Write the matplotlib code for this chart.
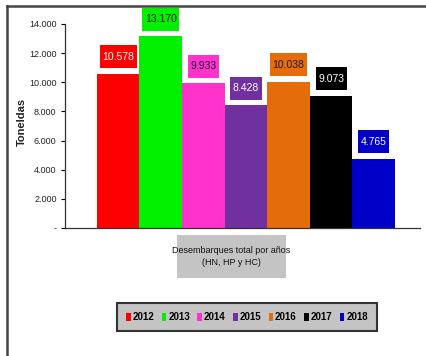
import matplotlib.pyplot as plt
import matplotlib.patches as patches
import matplotlib.lines as mlines
from matplotlib.transforms import IdentityTransform
import numpy as np

years = ['2012', '2013', '2014', '2015', '2016', '2017', '2018']
values = [10578, 13170, 9933, 8428, 10038, 9073, 4765]
colors = ['#ff0000', '#00f000', '#ff33cc', '#7030a0', '#e46c0a', '#000000', '#0000c8']
label_text_colors = ['white', '#1a1a1a', '#1a1a3a', 'white', '#1a1a1a', 'white', 'white']
y_ticks = [0, 2000, 4000, 6000, 8000, 10000, 12000, 14000]
x_title = 'Desembarques total por años\n(HN, HP y HC)'
y_title = 'Toneldas'

FONT = 'Liberation Sans'


def fmt_es(v):
    return f"{v:,.0f}".replace(',', '.')


fig = plt.figure(figsize=(4.27, 3.56), dpi=100)
ax = fig.add_axes([0.152, 0.3596, 0.832, 0.573])

# bars side by side, one category
pos = np.arange(len(values)) - (len(values) - 1) / 2
bars = ax.bar(pos, values, width=1.0, color=colors, edgecolor='none', zorder=2)

ax.set_xlim(-4.25, 4.09)
ax.set_ylim(0, 14000)
ax.set_yticks(y_ticks)
ax.set_yticklabels(['-' if t == 0 else fmt_es(t) for t in y_ticks],
                   fontname=FONT, fontsize=6.5, color='#222222')
ax.set_xticks([])
ax.tick_params(axis='y', direction='out', length=3, width=0.8, pad=3)
for s in ['top', 'right']:
    ax.spines[s].set_visible(False)
ax.spines['left'].set_color('#333333')
ax.spines['bottom'].set_color('#333333')
ax.spines['left'].set_linewidth(0.9)
ax.spines['bottom'].set_linewidth(0.9)

# data labels in colored boxes (box drawn in pixels around the text)
renderer = fig.canvas.get_renderer()
for b, v, c, tc in zip(bars, values, colors, label_text_colors):
    cx, cy = ax.transData.transform((b.get_x() + b.get_width() / 2, v))
    cy += 17
    t = fig.text(cx, cy, fmt_es(v), transform=IdentityTransform(),
                 ha='center', va='center', fontname=FONT, fontsize=7.5,
                 color=tc, zorder=6)
    w = t.get_window_extent(renderer).width + 5
    h = 23
    box = patches.Rectangle((cx - w / 2, cy - h / 2), w, h, transform=IdentityTransform(),
                            facecolor=c, edgecolor='none', zorder=5)
    fig.add_artist(box)

# y axis title
fig.text(22 / 427, 1 - 122 / 356, y_title, rotation=90, ha='center', va='center',
         fontsize=8, fontweight='bold', color='#222222', family=FONT)

# x axis title in grey box
fig.patches.append(patches.Rectangle((177 / 427, 1 - 278 / 356), 109 / 427, 43 / 356,
                                     transform=fig.transFigure, facecolor='#c4c4c4',
                                     edgecolor='none', zorder=1))
fig.text(231 / 427, 1 - 256.5 / 356, x_title, ha='center', va='center',
         fontname=FONT, fontsize=6.5, color='#111111', linespacing=1.5)

# legend
handles = [patches.Patch(facecolor=c, edgecolor='none', label=y) for c, y in zip(colors, years)]
leg = fig.legend(handles=handles, loc='center', ncol=7,
                 bbox_to_anchor=(247 / 427, 1 - 317 / 356),
                 prop={'family': FONT, 'size': 7, 'weight': 'bold'},
                 handlelength=0.45, handleheight=0.9, handletextpad=0.2,
                 columnspacing=0.78, borderpad=0.95, fancybox=False,
                 framealpha=1, facecolor='#c4c4c4', edgecolor='#333333')
leg.get_frame().set_linewidth(1.5)

# outer frame (left and top edges)
fig.lines.append(mlines.Line2D([7 / 427, 7 / 427], [0, 1 - 6 / 356], transform=fig.transFigure,
                               color='#444444', linewidth=1.8))
fig.lines.append(mlines.Line2D([7 / 427, 1], [1 - 6 / 356, 1 - 6 / 356], transform=fig.transFigure,
                               color='#444444', linewidth=1.8))

fig.savefig('out.png', dpi=100)
